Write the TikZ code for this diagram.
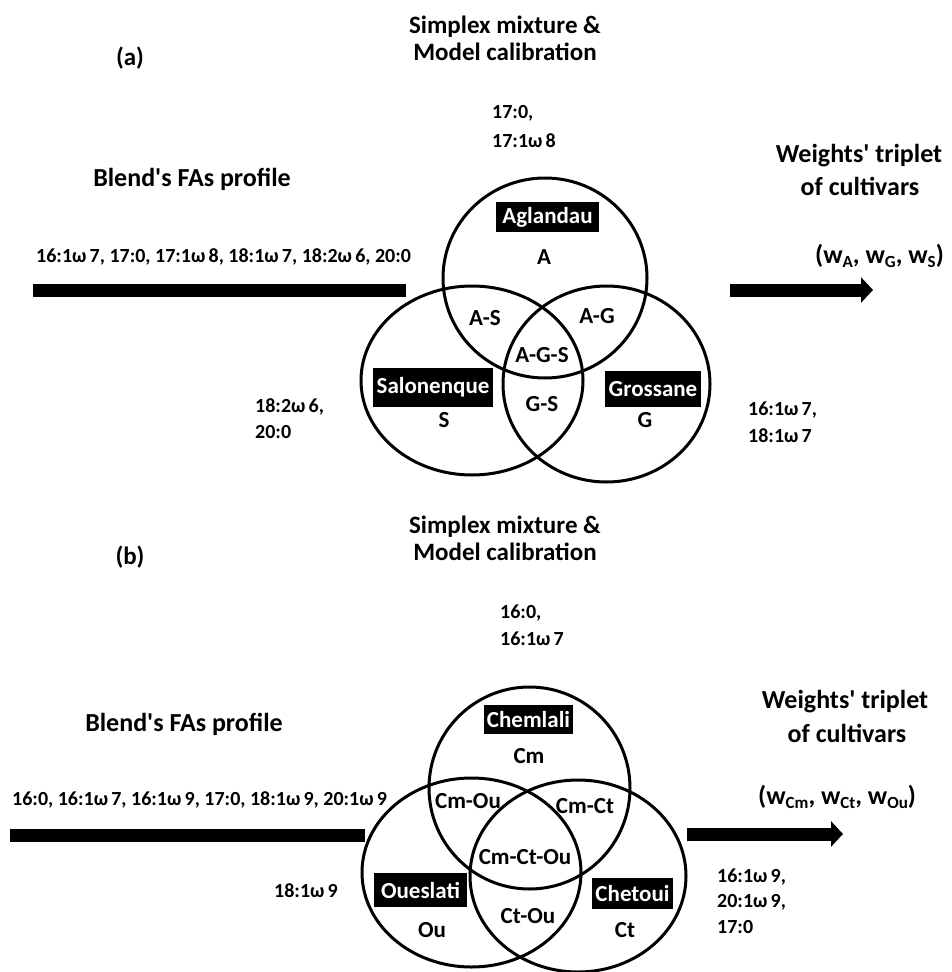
\documentclass[tikz,border=0pt]{standalone}
\usepackage{fontspec}
\setmainfont{Carlito}[Ligatures=TeXOff]
\usetikzlibrary{shapes.geometric,arrows.meta}
% omega with the small gap that follows it in the fatty-acid names
\newcommand\om{ω\hspace{0.16em}}
% lowered small index for the weights
\newcommand\wsub[1]{\raisebox{-0.35ex}{\fontsize{17}{20}\selectfont #1}}
\begin{document}
\begin{tikzpicture}[x=1pt,y=-1pt,
  every node/.style={inner sep=0pt},
  heading/.style={font=\fontsize{25}{30}\selectfont\bfseries, anchor=base},
  bigheading/.style={font=\fontsize{26}{30}\selectfont\bfseries, anchor=base},
  fa/.style={font=\fontsize{20}{24}\selectfont\bfseries, anchor=base west},
  weights/.style={font=\fontsize{26}{30}\selectfont\bfseries, anchor=base west},
  region/.style={font=\fontsize{23}{28}\selectfont\bfseries, anchor=base},
  cultivar/.style={fill=black, text=white, font=\fontsize{23}{28}\selectfont\bfseries, anchor=center},
  venn/.style={ellipse, draw, line width=3pt},
  bar/.style={line width=13pt},
  flow/.style={line width=13pt, -{Triangle[length=12pt,width=25pt]}},
]
\useasboundingbox (0,0) rectangle (952,972);

% ---------------- panel (a) ----------------
\node[font=\fontsize{25}{30}\selectfont\bfseries] (pa) at (130,58) {(a)};
\node[heading] (sa1) at (505,33) {Simplex mixture \&};
\node[heading] (sa2) at (505,60) {Model calibration};
\node[fa] (fa17) at (492,118) {17:0,};
\node[fa] (fa171) at (492,147) {17:1\om 8};
\node[bigheading] (ba) at (192,186) {Blend's FAs profile};
\node[bigheading] (wa1) at (859,162) {Weights' triplet};
\node[bigheading] (wa2) at (860,195) {of cultivars};
\node[fa] (profa) at (36,262) {16:1\om 7, 17:0, 17:1\om 8, 18:1\om 7, 18:2\om 6, 20:0};
\node[weights] (tripa) at (815,263) {(w\wsub{A}, w\wsub{G}, w\wsub{S})};
\node[fa] (fsa1) at (255,412) {18:2\om 6,};
\node[fa] (fsa2) at (255,438) {20:0};
\node[fa] (fga1) at (748,415) {16:1\om 7,};
\node[fa] (fga2) at (748,442) {18:1\om 7};

\node[venn, minimum width=204pt, minimum height=200pt] (cA) at (545,278) {};
\node[venn, minimum width=222pt, minimum height=189pt] (cS) at (472,380.5) {};
\node[venn, minimum width=207pt, minimum height=196pt] (cG) at (606.5,384) {};

\node[cultivar, minimum width=103pt, minimum height=30pt] (nA) at (547.5,217) {Aglandau};
\node[cultivar, minimum width=120pt, minimum height=39pt] (nS) at (433,387.5) {Salonenque};
\node[cultivar, minimum width=96pt, minimum height=36pt] (nG) at (653,389) {Grossane};
\node[region] (rA) at (544,264) {A};
\node[region] (rAS) at (485,325) {A-S};
\node[region] (rAG) at (597,323) {A-G};
\node[region] (rAGS) at (542,362) {A-G-S};
\node[region] (rGS) at (542,411) {G-S};
\node[region] (rS) at (444,427) {S};
\node[region] (rG) at (645,427) {G};

\coordinate (a0) at (33,290.5);
\coordinate (a1) at (406,290.5);
\coordinate (a2) at (730,290);
\coordinate (a3) at (873,290);
\draw[bar] (a0) -- (a1);
\draw[flow] (a2) -- (a3);

% ---------------- panel (b) ----------------
\node[font=\fontsize{25}{30}\selectfont\bfseries] (pb) at (130,557) {(b)};
\node[heading] (sb1) at (505,533) {Simplex mixture \&};
\node[heading] (sb2) at (505,560) {Model calibration};
\node[fa] (fb16) at (500,618) {16:0,};
\node[fa] (fb161) at (500,645) {16:1\om 7};
\node[bigheading] (bb) at (184,731) {Blend's FAs profile};
\node[bigheading] (wb1) at (845,708) {Weights' triplet};
\node[bigheading] (wb2) at (847,742) {of cultivars};
\node[fa] (profb) at (12,805) {16:0, 16:1\om 7, 16:1\om 9, 17:0, 18:1\om 9, 20:1\om 9};
\node[weights] (tripb) at (758,804) {(w\wsub{Cm}, w\wsub{Ct}, w\wsub{Ou})};
\node[fa] (fob) at (274,897) {18:1\om 9};
\node[fa] (fcb1) at (717,882) {16:1\om 9,};
\node[fa] (fcb2) at (717,907) {20:1\om 9,};
\node[fa] (fcb3) at (717,933) {17:0};

\node[venn, minimum width=201pt, minimum height=202pt] (cCm) at (529.5,788) {};
\node[venn, minimum width=219pt, minimum height=189pt] (cOu) at (471.5,872.5) {};
\node[venn, minimum width=216pt, minimum height=192pt] (cCt) at (578,876) {};

\node[cultivar, minimum width=89pt, minimum height=29pt] (nCm) at (528.5,719.5) {Chemlali};
\node[cultivar, minimum width=93pt, minimum height=34pt] (nOu) at (420.5,890) {Oueslati};
\node[cultivar, minimum width=81pt, minimum height=31pt] (nCt) at (632.5,893.5) {Chetoui};
\node[region] (rCm) at (529,763) {Cm};
\node[region] (rCmOu) at (468,808) {Cm-Ou};
\node[region] (rCmCt) at (585,813) {Cm-Ct};
\node[region] (rCCO) at (525,864) {Cm-Ct-Ou};
\node[region] (rCtOu) at (528,923) {Ct-Ou};
\node[region] (rOu) at (432,937) {Ou};
\node[region] (rCt) at (625,937) {Ct};

\coordinate (b0) at (10,835.5);
\coordinate (b1) at (365,835.5);
\coordinate (b2) at (687,834);
\coordinate (b3) at (843,834);
\draw[bar] (b0) -- (b1);
\draw[flow] (b2) -- (b3);
\end{tikzpicture}
\end{document}
